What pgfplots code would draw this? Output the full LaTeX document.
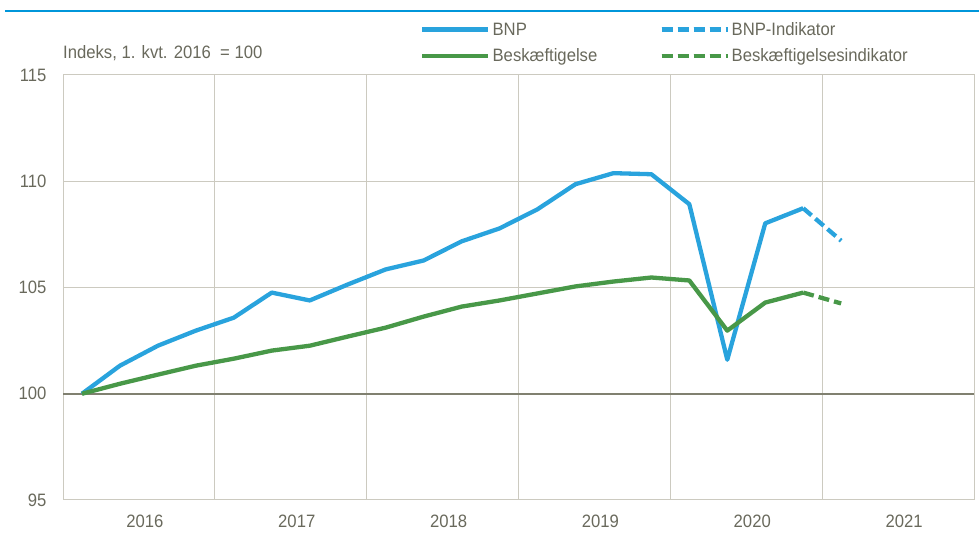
\documentclass[border=0pt]{standalone}
\usepackage{fontspec}
\setmainfont[FakeStretch=0.93]{Liberation Sans}
\usepackage{pgfplots}
\pgfplotsset{compat=1.18}
\definecolor{txt}{RGB}{105,105,92}
\definecolor{grd}{RGB}{204,202,192}
\definecolor{zero}{RGB}{128,128,112}
\definecolor{bnp}{RGB}{41,163,221}
\definecolor{besk}{RGB}{72,152,72}
\definecolor{topline}{RGB}{0,150,218}
\begin{document}
\begin{tikzpicture}[x=1bp,y=1bp]
\path[use as bounding box] (0,0) rectangle (979,534);
\draw[topline, line width=2bp] (5,523) -- (979,523);
\node[anchor=base west, text=txt, font=\fontsize{18}{22}\selectfont, inner sep=0pt] at (63,475) {Indeks, 1. kvt. 2016\ \ = 100};
\begin{axis}[at={(63bp,34bp)}, anchor=south west, width=911bp, height=425bp, scale only axis,
  xmin=-0.5, xmax=23.5, ymin=95, ymax=115,
  xtick={-0.5,3.5,7.5,11.5,15.5,19.5,23.5}, xticklabels={},
  extra x ticks={1.5,5.5,9.5,13.5,17.5,21.5},
  extra x tick labels={2016,2017,2018,2019,2020,2021},
  extra x tick style={grid=none, major tick length=0pt},
  ytick={95,105,110,115},
  extra y ticks={100},
  extra y tick style={grid=major, major grid style={zero, line width=1.6bp}},
  grid=major, major grid style={grd, line width=1bp},
  axis line style={grd, line width=1bp},
  major tick length=0pt,
  /pgf/number format/assume math mode=true,
  tick label style={text=txt, font=\fontsize{18}{22}\selectfont},
  yticklabel style={xshift=-13bp},
  xticklabel style={yshift=-11bp, xshift=6bp},
  legend columns=2,
  legend cell align=left,
  legend style={draw=none, fill=none, inner sep=0pt, at={(0.392,1.129)}, anchor=north west,
    font=\fontsize{18}{22}\selectfont, text=txt, row sep=8bp,
    /tikz/every even column/.append style={column sep=60bp}},
  legend image code/.code={\draw[#1] (0bp,0bp) -- (60bp,0bp); \path (0bp,0bp) -- (66bp,0bp);},
  every axis plot/.append style={line width=4.3bp, line join=round},
]
\addplot[bnp] coordinates {
(0,100) (1,101.32) (2,102.26) (3,102.97) (4,103.58) (5,104.76) (6,104.39) (7,105.14)
(8,105.85) (9,106.27) (10,107.17) (11,107.78) (12,108.68) (13,109.86) (14,110.38) (15,110.33)
(16,108.92) (17,101.6) (18,108.02) (19,108.73)};
\addlegendentry{BNP}
\addplot[bnp, dash pattern=on 11bp off 5bp] coordinates {(19,108.73) (20,107.2)};
\addlegendentry{BNP-Indikator}
\addplot[besk] coordinates {
(0,100) (1,100.47) (2,100.9) (3,101.32) (4,101.65) (5,102.03) (6,102.26) (7,102.69)
(8,103.11) (9,103.63) (10,104.1) (11,104.39) (12,104.72) (13,105.05) (14,105.28) (15,105.47)
(16,105.33) (17,102.97) (18,104.29) (19,104.76)};
\addlegendentry{Beskæftigelse}
\addplot[besk, dash pattern=on 11bp off 5bp] coordinates {(19,104.76) (20,104.25)};
\addlegendentry{Beskæftigelsesindikator}
\end{axis}
\end{tikzpicture}
\end{document}
